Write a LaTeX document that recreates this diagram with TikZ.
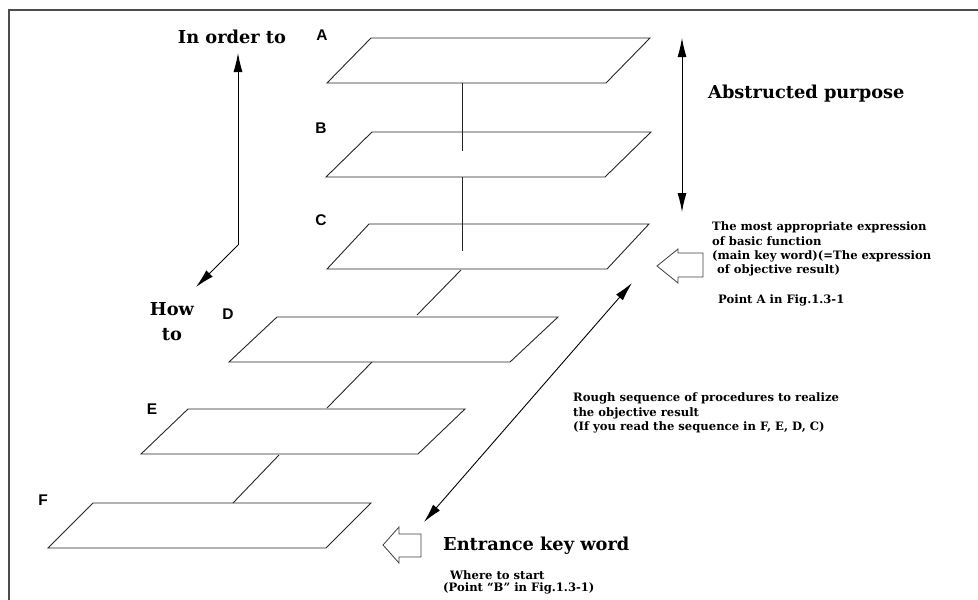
\documentclass[tikz,border=0pt]{standalone}
\usepackage{fontspec}
\setmainfont{DejaVu Serif}
\newfontfamily\lblfont{Liberation Sans}
\usetikzlibrary{arrows.meta}
\begin{document}
\begin{tikzpicture}[x=1pt,y=-1pt,
  plane/.style={draw=black!85, line width=0.9pt, line join=miter},
  link/.style={draw=black!85, line width=0.9pt},
  arr/.style={draw=black, line width=0.9pt},
  tipA/.tip={Latex[length=19pt,width=9pt]},
  hollow/.style={draw=black!75, line width=0.8pt, fill=white},
  frame/.style={draw=black!70, line width=1.5pt},
  letter/.style={font=\lblfont\bfseries\fontsize{15.5}{17}\selectfont, inner sep=0pt},
  big/.style={font=\bfseries\fontsize{17.8}{25}\selectfont, inner sep=0pt},
  small/.style={font=\bfseries\fontsize{11.6}{14.2}\selectfont, inner sep=0pt, align=left}
]
\useasboundingbox (0,0) rectangle (978,600);
\draw[frame] (9,600) -- (9,10) -- (978,10);

% planes: bottom-left corner, slant, width
\foreach \n/\x/\y/\s/\w in {A/327/83/44/279, B/326/177/46/279, C/327/269/42/280, D/229/362/48/281, E/141/454/47/277, F/48/548/45/278}{
  \coordinate (\n-bl) at (\x,\y);
  \coordinate (\n-br) at (\x+\w,\y);
  \coordinate (\n-tl) at (\x+\s,\y-45);
  \coordinate (\n-tr) at (\x+\s+\w,\y-45);
  \draw[plane] (\n-bl) -- (\n-tl) -- (\n-tr) -- (\n-br) -- cycle;
}

% connectors between planes
\coordinate (ab1) at (462,83);  \coordinate (ab2) at (462,151);
\coordinate (bc1) at (462,177); \coordinate (bc2) at (462,251);
\coordinate (cd1) at (461,270); \coordinate (cd2) at (417,315);
\coordinate (de1) at (372,362); \coordinate (de2) at (327,408);
\coordinate (ef1) at (279,455); \coordinate (ef2) at (233,503);
\draw[link] (ab1) -- (ab2);
\draw[link] (bc1) -- (bc2);
\draw[link] (cd1) -- (cd2);
\draw[link] (de1) -- (de2);
\draw[link] (ef1) -- (ef2);

% plane letters
\node[letter] (lA) at (322,35) {A};
\node[letter] (lB) at (321,128) {B};
\node[letter] (lC) at (321,220) {C};
\node[letter] (lD) at (228,314) {D};
\node[letter] (lE) at (152,409) {E};
\node[letter] (lF) at (43,500) {F};

% left direction arrows
\node[big] (inorder) at (232,37) {In order to};
\node[big, align=center] (howto) at (172,322) {How\\to};
\coordinate (corner) at (238,245);
\coordinate (uptip) at (238,53);
\coordinate (dltip) at (196,287);
\draw[arr, -tipA] (corner) -- (uptip);
\draw[arr, -tipA] (corner) -- (dltip);

% abstracted purpose double arrow
\coordinate (ap1) at (682,38);
\coordinate (ap2) at (682,212);
\draw[arr, tipA-tipA] (ap2) -- (ap1);
\node[big, anchor=west] (abst) at (708,94) {Abstructed purpose};

% hollow arrow pointing at C
\coordinate (h1) at (657,266);
\draw[hollow] (h1) -- ++(21,-17) -- ++(0,4) -- ++(25,0) -- ++(0,24) -- ++(-25,0) -- ++(0,6) -- cycle;
\node[small, anchor=west] (most) at (712,249)
  {The most appropriate expression\\of basic function\\(main key word)(=The expression\\\hspace{5pt}of objective result)};
\node[small, anchor=west] (pointA) at (718,300) {Point A in Fig.1.3-1};

% diagonal double arrow
\coordinate (dg1) at (632,283);
\coordinate (dg2) at (424,522);
\draw[arr, tipA-tipA] (dg2) -- (dg1);
\node[small, anchor=west] (rough) at (573,413)
  {Rough sequence of procedures to realize\\the objective result\\(If you read the sequence in F, E, D, C)};

% hollow arrow pointing at F
\coordinate (h2) at (383,545);
\draw[hollow] (h2) -- ++(16,-18) -- ++(0,7) -- ++(22,0) -- ++(0,23) -- ++(-22,0) -- ++(0,6) -- cycle;
\node[big, anchor=west] (entr) at (443,546) {Entrance key word};
\node[small, anchor=west] (where) at (450,575) {Where to start};
\node[small, anchor=west] (pointB) at (443,588) {(Point “B” in Fig.1.3-1)};
\end{tikzpicture}
\end{document}
